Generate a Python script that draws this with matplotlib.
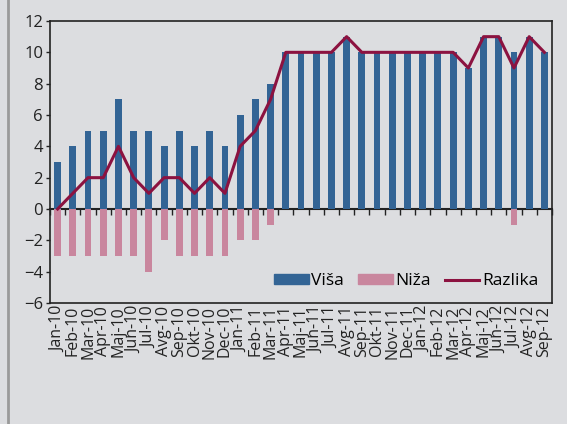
import numpy as np
import matplotlib.pyplot as plt
from matplotlib.lines import Line2D
from matplotlib.patches import Patch

months = ["Jan-10", "Feb-10", "Mar-10", "Apr-10", "Maj-10", "Jun-10", "Jul-10",
          "Avg-10", "Sep-10", "Okt-10", "Nov-10", "Dec-10",
          "Jan-11", "Feb-11", "Mar-11", "Apr-11", "Maj-11", "Jun-11", "Jul-11",
          "Avg-11", "Sep-11", "Okt-11", "Nov-11", "Dec-11",
          "Jan-12", "Feb-12", "Mar-12", "Apr-12", "Maj-12", "Jun-12", "Jul-12",
          "Avg-12", "Sep-12"]
visa = [3, 4, 5, 5, 7, 5, 5, 4, 5, 4, 5, 4,
        6, 7, 8, 10, 10, 10, 10, 11, 10, 10, 10, 10,
        10, 10, 10, 9, 11, 11, 10, 11, 10]
niza = [-3, -3, -3, -3, -3, -3, -4, -2, -3, -3, -3, -3,
        -2, -2, -1, 0, 0, 0, 0, 0, 0, 0, 0, 0,
        0, 0, 0, 0, 0, 0, -1, 0, 0]
razlika = [0, 1, 2, 2, 4, 2, 1, 2, 2, 1, 2, 1,
           4, 5, 7, 10, 10, 10, 10, 11, 10, 10, 10, 10,
           10, 10, 10, 9, 11, 11, 9, 11, 10]

bg = "#dcdde0"
c_visa = "#336495"
c_niza = "#c9869e"
c_raz = "#8c1240"

plt.rcParams["font.family"] = ["Open Sans", "DejaVu Sans"]

fig = plt.figure(figsize=(5.67, 4.24), dpi=100, facecolor=bg)
ax = fig.add_axes([50 / 567, 1 - 303 / 424, 502 / 567, 282 / 424])
ax.set_facecolor(bg)

# left border of the panel
fig.add_artist(Line2D([7.5 / 567, 7.5 / 567], [0, 1], color="#9a9a9a", lw=2,
                      transform=fig.transFigure))

x = np.arange(len(months))
ax.bar(x, visa, width=0.45, color=c_visa, zorder=2)
ax.bar(x, niza, width=0.45, color=c_niza, zorder=2)
ax.plot(x, razlika, color=c_raz, lw=2.2, zorder=3)

ax.set_xlim(-0.5, len(months) - 0.5)
ax.set_ylim(-6, 12)
ax.set_yticks(range(-6, 13, 2))
ax.tick_params(axis="y", length=3, width=1, labelsize=12, colors="#222222", pad=2)
ax.set_xticks(x)
ax.set_xticklabels(months, rotation=90, fontsize=11.5, color="#222222")
ax.tick_params(axis="x", length=0, pad=2)

for s in ax.spines.values():
    s.set_color("#222222")
    s.set_linewidth(1.2)

# zero line with tick marks between categories
zero = ax.secondary_xaxis(6 / 18)
zero.set_xticks(np.arange(-0.5, len(months), 1.0))
zero.tick_params(axis="x", direction="out", length=4, width=1, labelbottom=False,
                 labeltop=False, colors="#222222")
zero.spines["bottom"].set_linewidth(1.5)
zero.spines["bottom"].set_color("#222222")

handles = [Patch(color=c_visa), Patch(color=c_niza),
           Line2D([0], [0], color=c_raz, lw=2.2)]
ax.legend(handles, ["Viša", "Niža", "Razlika"], loc="lower right",
          bbox_to_anchor=(1.0, 0.0), ncol=3, frameon=False, fontsize=12.5,
          handlelength=2.0, handleheight=0.5, handletextpad=0.15,
          columnspacing=0.8, borderaxespad=0.4)

fig.savefig("out.png", dpi=100, facecolor=bg)
